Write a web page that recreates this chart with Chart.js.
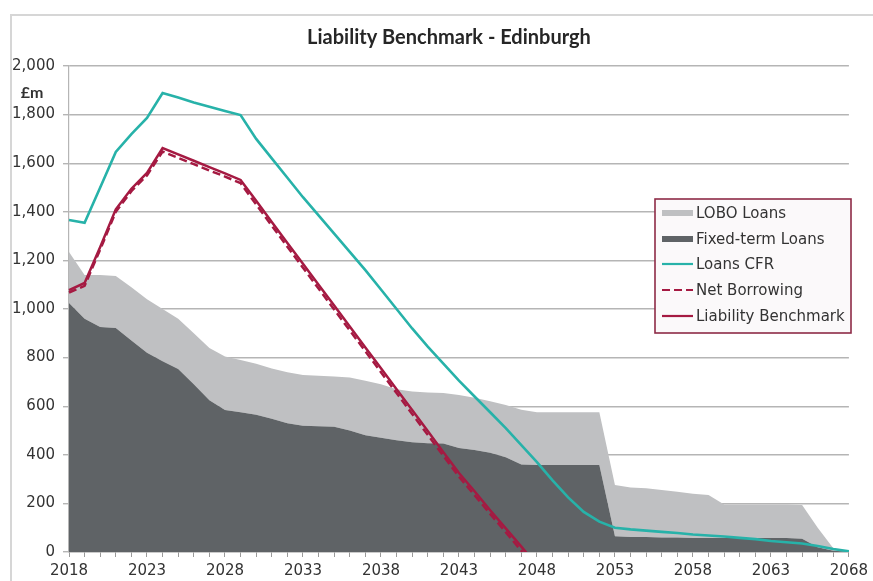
<!DOCTYPE html>
<html>
<head>
<meta charset="utf-8">
<script src="https://cdn.jsdelivr.net/npm/chart.js@4/dist/chart.umd.min.js"></script>
<style>
html,body{margin:0;padding:0;background:#fff;}
#wrap{width:873px;height:581px;}
</style>
</head>
<body>
<div id="wrap"><canvas id="c" width="873" height="581"></canvas></div>
<script>
// ---- data ----
const years = [];
for (let y = 2018; y <= 2068; y++) years.push(String(y));

const fixedTermLoans = [1025,960,926,922,870,820,785,753,690,625,584,575,565,548,530,520,518,515,500,480,470,460,452,448,446,428,420,408,390,360,358,358,358,358,358,65,62,62,60,60,58,58,58,58,58,58,58,55,20,5,0];
const totalLoans     = [1235,1140,1140,1136,1090,1040,1000,960,900,840,805,790,775,755,740,728,725,722,718,705,690,670,660,656,654,646,635,620,605,585,575,575,575,575,575,276,265,262,255,248,240,235,195,195,195,195,195,193,100,15,0];
const loboLoans = totalLoans.map((t, i) => t - fixedTermLoans[i]);

const loansCFR = [1366,1355,1500,1646,1720,1786,1889,1870,1850,1832,1815,1798,1700,1620,1540,1460,1385,1310,1235,1160,1080,1000,920,845,775,705,640,575,510,440,370,295,225,165,125,100,93,88,83,78,72,68,64,58,53,45,40,35,25,12,3];

const netBorrowing = [1068,1095,1245,1400,1485,1550,1648,1622,1596,1570,1545,1518,1430,1343,1256,1170,1084,998,912,826,740,654,568,482,396,310,234,157,82,5,-72,null,null,null,null,null,null,null,null,null,null,null,null,null,null,null,null,null,null,null,null];

const liabilityBenchmark = [1078,1107,1255,1410,1495,1560,1662,1636,1610,1584,1558,1531,1445,1358,1272,1186,1100,1014,928,842,756,670,584,498,411,325,250,172,97,22,-55,null,null,null,null,null,null,null,null,null,null,null,null,null,null,null,null,null,null,null,null];

const yTicks = {min: 0, max: 2000, step: 200};
const titleText = 'Liability Benchmark - Edinburgh';
const unitText = '£m';

// ---- styles ----
const C_LOBO = '#bfc0c2';
const C_FIXED = '#5f6366';
const C_TEAL = '#27b2a9';
const C_RED = '#a51a42';

const legendOrder = ['LOBO Loans','Fixed-term Loans','Loans CFR','Net Borrowing','Liability Benchmark'];

const framePlugin = {
  id: 'frame',
  beforeDraw(chart) {
    const ctx = chart.ctx;
    ctx.save();
    ctx.fillStyle = '#ffffff';
    ctx.fillRect(0, 0, chart.width, chart.height);
    ctx.strokeStyle = '#d6d6d6';
    ctx.lineWidth = 2;
    ctx.strokeRect(11, 15, chart.width + 20, chart.height + 20);
    ctx.restore();
  },
  afterDraw(chart) {
    const ctx = chart.ctx;
    ctx.save();
    // title
    ctx.fillStyle = '#262626';
    ctx.textAlign = 'center';
    ctx.textBaseline = 'middle';
    ctx.font = 'bold 20px Lato, "DejaVu Sans", sans-serif';
    ctx.fillText(titleText, 449, 38);
    // unit
    ctx.font = 'bold 16px Lato, "DejaVu Sans", sans-serif';
    ctx.fillStyle = '#333';
    ctx.fillText(unitText, 32, 93);

    // legend
    const bx = 655, by = 199, bw = 196, bh = 134;
    ctx.fillStyle = '#fbf9fa';
    ctx.fillRect(bx, by, bw, bh);
    ctx.strokeStyle = '#8e2b47';
    ctx.lineWidth = 1.6;
    ctx.strokeRect(bx, by, bw, bh);
    const rows = [213, 239, 264, 290, 316];
    ctx.textAlign = 'left';
    ctx.font = '15px "DejaVu Sans", sans-serif';
    legendOrder.forEach((name, i) => {
      const ds = chart.data.datasets.find(d => d.label === name);
      const y = rows[i];
      if (ds.fill !== false) {
        ctx.fillStyle = ds.backgroundColor;
        ctx.fillRect(662, y - 3, 31, 6);
      } else {
        ctx.strokeStyle = ds.borderColor;
        ctx.lineWidth = 2.2;
        ctx.setLineDash(ds.borderDash || []);
        ctx.beginPath();
        ctx.moveTo(662, y);
        ctx.lineTo(693, y);
        ctx.stroke();
        ctx.setLineDash([]);
      }
      ctx.fillStyle = '#333';
      ctx.fillText(name, 696, y + 1);
    });
    ctx.restore();
  }
};

const ds = [
  {label: 'Fixed-term Loans', data: fixedTermLoans, stack: 'loans', fill: 'origin',
   backgroundColor: C_FIXED, borderColor: C_FIXED, borderWidth: 0, pointRadius: 0, order: 5, tension: 0},
  {label: 'LOBO Loans', data: loboLoans, stack: 'loans', fill: '-1',
   backgroundColor: C_LOBO, borderColor: C_LOBO, borderWidth: 0, pointRadius: 0, order: 6, tension: 0},
  {label: 'Loans CFR', data: loansCFR, stack: 'cfr', fill: false,
   borderColor: C_TEAL, backgroundColor: C_TEAL, borderWidth: 2.6, pointRadius: 0, order: 3, tension: 0},
  {label: 'Net Borrowing', data: netBorrowing, stack: 'nb', fill: false,
   borderColor: C_RED, backgroundColor: C_RED, borderWidth: 2.5, borderDash: [8, 4], pointRadius: 0, order: 2, tension: 0},
  {label: 'Liability Benchmark', data: liabilityBenchmark, stack: 'lb', fill: false,
   borderColor: C_RED, backgroundColor: C_RED, borderWidth: 2.5, pointRadius: 0, order: 1, tension: 0}
];

new Chart(document.getElementById('c'), {
  type: 'line',
  data: {labels: years, datasets: ds},
  options: {
    responsive: false,
    animation: false,
    events: [],
    layout: {padding: {left: 0, top: 66, right: 22, bottom: 0}},
    plugins: {legend: {display: false}, title: {display: false}, tooltip: {enabled: false}},
    scales: {
      x: {
        type: 'category',
        offset: false,
        grid: {display: true, drawOnChartArea: false, drawTicks: true, tickLength: 5, color: '#9a9a9a', lineWidth: 1},
        border: {display: true, color: '#9a9a9a', width: 1.2},
        ticks: {
          autoSkip: false, maxRotation: 0, minRotation: 0, padding: 5,
          color: '#333', font: {family: '"DejaVu Sans", sans-serif', size: 15},
          callback: (v, i) => ((i % 5) === 0 ? years[i] : '')
        },
        afterFit: s => { s.height = 29; }
      },
      y: {
        stacked: true,
        min: yTicks.min, max: yTicks.max,
        grid: {color: '#b5b5b5', lineWidth: 1.4, tickLength: 6, drawTicks: true},
        border: {display: true, color: '#b5b5b5', width: 1.2},
        ticks: {
          stepSize: yTicks.step, padding: 8,
          color: '#333', font: {family: '"DejaVu Sans", sans-serif', size: 15},
          callback: v => v.toLocaleString('en-US')
        },
        afterFit: s => { s.width = 69; }
      }
    }
  },
  plugins: [framePlugin]
});
</script>
</body>
</html>
